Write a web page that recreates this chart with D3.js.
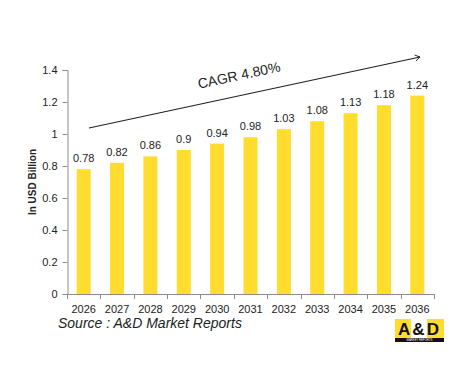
<!DOCTYPE html>
<html>
<head>
<meta charset="utf-8">
<script src="https://cdn.jsdelivr.net/npm/d3@7"></script>
<style>
  body { margin: 0; background: #fff; }
  text { font-family: "Liberation Sans", Arial, sans-serif; }
</style>
</head>
<body>
<div id="chart"></div>
<script>
var years = ['2026', '2027', '2028', '2029', '2030', '2031', '2032', '2033', '2034', '2035', '2036']
var values = [0.78, 0.82, 0.86, 0.9, 0.94, 0.98, 1.03, 1.08, 1.13, 1.18, 1.24]
var yTicks = [0, 0.2, 0.4, 0.6, 0.8, 1, 1.2, 1.4]
var cagrLabel = 'CAGR 4.80%'
var sourceLabel = 'Source : A&D Market Reports'

var width = 468
var height = 365
var barColor = '#FFDC2E'
var axisColor = '#8c8c8c'

var svg = d3.select('#chart').append('svg')
  .attr('width', width)
  .attr('height', height)

var x = d3.scaleBand().domain(years).range([67, 434]).paddingInner(0.58).paddingOuter(0.29)
var y = d3.scaleLinear().domain([0, 1.4]).range([294, 70])

// y axis
var yAxis = svg.append('g').attr('transform', 'translate(67.5,0)')
  .call(d3.axisLeft(y).tickValues(yTicks).tickSize(5).tickPadding(5)
    .tickFormat(d => d3.format('~g')(d)))
yAxis.select('.domain').attr('stroke', axisColor)
yAxis.selectAll('.tick line').attr('stroke', axisColor)
yAxis.selectAll('text').attr('font-size', 11).attr('fill', '#222')
  .attr('font-family', '"Liberation Sans", Arial, sans-serif')

// x axis line with ticks at category boundaries
var step = x.step()
var x0 = 67
svg.append('line')
  .attr('x1', x0).attr('x2', x0 + step * years.length)
  .attr('y1', y(0) + 0.5).attr('y2', y(0) + 0.5)
  .attr('stroke', axisColor)
svg.append('g').selectAll('line')
  .data(d3.range(years.length + 1))
  .join('line')
  .attr('x1', i => Math.round(x0 + i * step) + 0.5)
  .attr('x2', i => Math.round(x0 + i * step) + 0.5)
  .attr('y1', y(0))
  .attr('y2', y(0) + 5)
  .attr('stroke', axisColor)

svg.append('g').selectAll('text')
  .data(years)
  .join('text')
  .attr('x', d => x(d) + x.bandwidth() / 2)
  .attr('y', 313)
  .attr('text-anchor', 'middle')
  .attr('font-size', 11)
  .attr('fill', '#222')
  .text(d => d)

// bars
svg.append('g').selectAll('rect')
  .data(values)
  .join('rect')
  .attr('x', (d, i) => x(years[i]))
  .attr('y', d => y(d))
  .attr('width', x.bandwidth())
  .attr('height', d => y(0) - y(d))
  .attr('fill', barColor)

svg.append('g').selectAll('text')
  .data(values)
  .join('text')
  .attr('x', (d, i) => x(years[i]) + x.bandwidth() / 2)
  .attr('y', d => y(d) - 7)
  .attr('text-anchor', 'middle')
  .attr('font-size', 11)
  .attr('fill', '#222')
  .text(d => d)

// y label
svg.append('text')
  .attr('transform', 'translate(36,182) rotate(-90)')
  .attr('text-anchor', 'middle')
  .attr('font-size', 10)
  .attr('font-weight', 'bold')
  .attr('fill', '#222')
  .text('In USD Billion')

// CAGR arrow
svg.append('defs').append('marker')
  .attr('id', 'arrow')
  .attr('viewBox', '-10 -10 20 20')
  .attr('markerWidth', 12)
  .attr('markerHeight', 12)
  .attr('markerUnits', 'userSpaceOnUse')
  .attr('orient', 'auto')
  .append('path')
  .attr('d', 'M-8,-5 L0,0 L-8,5')
  .attr('fill', 'none')
  .attr('stroke', '#222')
  .attr('stroke-width', 1.5)

svg.append('line')
  .attr('x1', 89).attr('y1', 128)
  .attr('x2', 420).attr('y2', 57)
  .attr('stroke', '#222')
  .attr('stroke-width', 1.2)
  .attr('marker-end', 'url(#arrow)')

var angle = Math.atan2(57 - 128, 420 - 89) * 180 / Math.PI
svg.append('text')
  .attr('transform', 'translate(240,80) rotate(' + angle + ')')
  .attr('text-anchor', 'middle')
  .attr('font-size', 14)
  .attr('fill', '#222')
  .text(cagrLabel)

// source
svg.append('text')
  .attr('x', 58)
  .attr('y', 328)
  .attr('font-size', 14)
  .attr('font-style', 'italic')
  .attr('fill', '#222')
  .text(sourceLabel)

// logo
var logo = svg.append('g').attr('transform', 'translate(395,319)')
logo.append('rect').attr('width', 49).attr('height', 19).attr('fill', barColor)
logo.append('rect').attr('x', 16).attr('width', 16).attr('height', 19).attr('fill', '#fff')
logo.append('rect').attr('y', 19).attr('width', 49).attr('height', 4).attr('fill', '#111')
logo.append('text').attr('x', 24.5).attr('y', 16).attr('text-anchor', 'middle')
  .attr('font-size', 17).attr('font-weight', 'bold').attr('fill', '#111')
  .attr('letter-spacing', 2)
  .text('A&D')
logo.append('text').attr('x', 24.5).attr('y', 22.3).attr('text-anchor', 'middle')
  .attr('font-size', 2.8).attr('fill', '#fff')
  .text('MARKET REPORTS')
</script>
</body>
</html>
